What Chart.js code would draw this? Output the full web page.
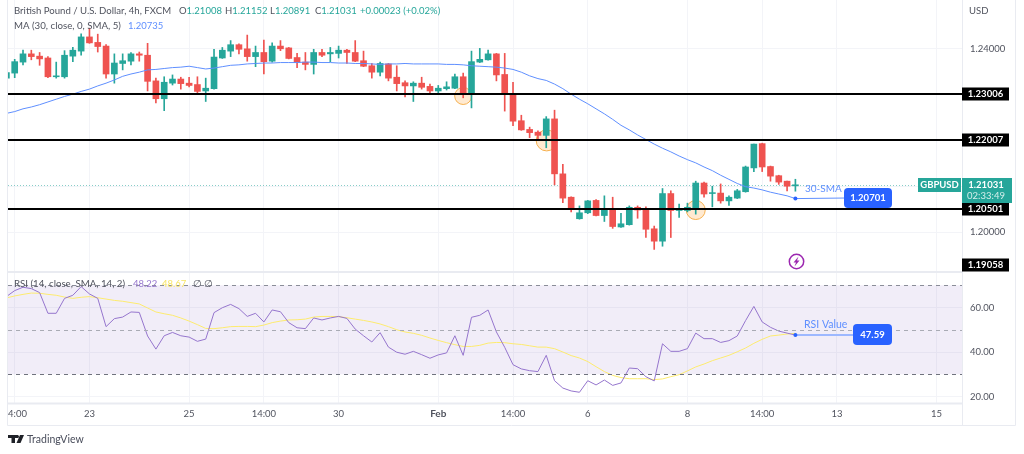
<!DOCTYPE html>
<html>
<head>
<meta charset="utf-8">
<title>GBPUSD</title>
<script src="https://cdn.jsdelivr.net/npm/chart.js@4"></script>
<style>
  html, body { margin: 0; padding: 0; background: #fff; }
  canvas { display: block; }
</style>
</head>
<body>
<canvas id="chart" width="1024" height="454"></canvas>
<script>
// ===== DATA =====
const opens = [1.2336,1.2347,1.2371,1.2389,1.2384,1.2380,1.2339,1.2339,1.2384,1.2395,1.2426,1.2414,1.2406,1.2345,1.2368,1.2373,1.2389,1.2386,1.2330,1.2291,1.2325,1.2334,1.2325,1.2322,1.2308,1.2313,1.2380,1.2395,1.2409,1.2400,1.2383,1.2392,1.2373,1.2406,1.2402,1.2381,1.2371,1.2366,1.2392,1.2389,1.2390,1.2397,1.2392,1.2374,1.2363,1.2349,1.2367,1.2338,1.2326,1.2319,1.2325,1.2318,1.2308,1.2313,1.2314,1.2339,1.2301,1.2371,1.2376,1.2389,1.2344,1.2301,1.2243,1.2224,1.2218,1.2211,1.2247,1.2127,1.2076,1.2029,1.2042,1.2069,1.2036,1.2050,1.2011,1.2016,1.2054,1.2050,1.2007,1.1980,1.2084,1.2047,1.2047,1.2050,1.2107,1.2084,1.2085,1.2068,1.2074,1.2088,1.2140,1.2193,1.2143,1.2123,1.2111,1.21008];
const highs = [1.2352,1.2377,1.2397,1.2397,1.2392,1.2383,1.2371,1.2396,1.2403,1.2433,1.2445,1.2432,1.2409,1.2389,1.2389,1.2392,1.2393,1.2412,1.2336,1.2339,1.2343,1.2338,1.2338,1.2339,1.2336,1.2399,1.2403,1.2418,1.2411,1.2430,1.2406,1.2419,1.2413,1.2418,1.2403,1.2390,1.2392,1.2399,1.2399,1.2403,1.2406,1.2399,1.2418,1.2395,1.2368,1.2371,1.2368,1.2363,1.2330,1.2328,1.2338,1.2323,1.2320,1.2328,1.2345,1.2347,1.2395,1.2401,1.2397,1.2390,1.2390,1.2327,1.2255,1.2229,1.2221,1.2252,1.2266,1.2148,1.2077,1.2057,1.2069,1.2071,1.2079,1.2076,1.2041,1.2057,1.2057,1.2055,1.2013,1.2095,1.2090,1.2061,1.2063,1.2111,1.2109,1.2100,1.2105,1.2079,1.2093,1.2144,1.2192,1.2194,1.2144,1.2124,1.2111,1.21152];
const lows = [1.2330,1.2337,1.2365,1.2376,1.2364,1.2337,1.2336,1.2336,1.2372,1.2386,1.2412,1.2393,1.2336,1.2325,1.2354,1.2365,1.2373,1.2308,1.2282,1.2265,1.2321,1.2312,1.2317,1.2303,1.2285,1.2312,1.2379,1.2383,1.2389,1.2373,1.2361,1.2345,1.2371,1.2396,1.2378,1.2359,1.2354,1.2345,1.2383,1.2372,1.2380,1.2368,1.2372,1.2361,1.2336,1.2341,1.2330,1.2308,1.2295,1.2285,1.2312,1.2303,1.2303,1.2310,1.2313,1.2293,1.2271,1.2370,1.2375,1.2330,1.2264,1.2232,1.2222,1.2206,1.2201,1.2184,1.2103,1.2064,1.2044,1.2028,1.2040,1.2035,1.2023,1.2008,1.2010,1.2015,1.2030,1.1988,1.1962,1.1969,1.1988,1.2032,1.2044,1.2039,1.2076,1.2055,1.2063,1.2058,1.2073,1.2087,1.2132,1.2132,1.2111,1.2104,1.2090,1.20891];
const closes = [1.2348,1.2372,1.2389,1.2383,1.2378,1.2339,1.2341,1.2386,1.2397,1.2426,1.2413,1.2405,1.2345,1.2369,1.2374,1.2389,1.2386,1.2329,1.2291,1.2327,1.2334,1.2324,1.2320,1.2307,1.2314,1.2382,1.2397,1.2409,1.2399,1.2383,1.2392,1.2372,1.2406,1.2400,1.2379,1.2370,1.2366,1.2392,1.2386,1.2392,1.2397,1.2392,1.2373,1.2362,1.2349,1.2368,1.2336,1.2324,1.2319,1.2325,1.2316,1.2308,1.2314,1.2317,1.2339,1.2301,1.2372,1.2377,1.2389,1.2343,1.2300,1.2242,1.2223,1.2217,1.2211,1.2247,1.2127,1.2074,1.2050,1.2042,1.2068,1.2036,1.2050,1.2012,1.2018,1.2054,1.2048,1.2006,1.1980,1.2084,1.2047,1.2051,1.2054,1.2107,1.2083,1.2086,1.2068,1.2076,1.2090,1.2142,1.2192,1.2142,1.2122,1.2109,1.2100,1.21031];
const smaValues = [1.2259,1.2263,1.2269,1.2273,1.2278,1.2284,1.2290,1.2296,1.2301,1.2307,1.2312,1.2319,1.2325,1.2332,1.2340,1.2345,1.2349,1.2354,1.2355,1.2357,1.2359,1.2360,1.2362,1.2359,1.2356,1.2358,1.2361,1.2364,1.2365,1.2367,1.2368,1.2369,1.2369,1.2370,1.2370,1.2370,1.2371,1.2371,1.2370,1.2370,1.2369,1.2369,1.2368,1.2368,1.2367,1.2366,1.2367,1.2367,1.2368,1.2367,1.2367,1.2367,1.2367,1.2366,1.2366,1.2365,1.2363,1.2362,1.2361,1.2360,1.2358,1.2355,1.2349,1.2341,1.2335,1.2331,1.2323,1.2313,1.2301,1.2290,1.2280,1.2269,1.2258,1.2246,1.2233,1.2223,1.2212,1.2202,1.2192,1.2183,1.2175,1.2166,1.2158,1.2151,1.2142,1.2134,1.2124,1.2115,1.2106,1.2099,1.2096,1.2092,1.2087,1.2083,1.2079,1.2073];
const rsiValues = [64.9,67.6,69.1,68.5,66.7,57.4,57.4,64.1,65.5,69.4,66.1,64.1,51.4,55,55.7,58,57.8,47.2,41.3,47.3,48.8,47.3,46.7,44.8,45.8,57.7,59.9,61.4,59.5,56,57.4,53.5,58.9,58.1,53.2,50.9,50.5,55.3,54.4,55.3,56,55.1,50.3,47.3,44.5,48.7,42.2,39.9,39,40.3,38.8,37.2,38.7,39.6,47.3,38.5,55.6,56.5,58.9,49,42.1,34.3,32.4,31.6,31.2,38.5,27.1,23.8,22.5,21.9,27.1,25.2,27.4,25,26.1,32.8,32.5,28.9,27,43.7,40.3,40.3,41.5,48.5,46,46,44.3,45.1,47.2,54.1,60.5,53.5,51.1,49.4,48.5,47.6];
const rsiSmaValues = [64.3,65.2,65.9,66.5,66.4,65.9,65.5,64.7,64.1,64.6,64.9,64.4,63.8,63.2,62.8,62.2,61.6,59.8,58,57.2,56.5,55.3,53.9,52.3,50.6,50.5,50.9,51.4,51.5,51.5,51.4,52.1,53.2,53.9,54.4,54.5,54.8,55.7,56,56,55.9,55.4,54.8,54.2,53.5,52.6,51.4,50,49,48.4,47.5,46.3,45.2,44.2,43.3,42.5,42.5,43,44,44.3,44.2,43.7,43.4,42.8,42.2,42.2,41.5,40,38.4,37.3,35.7,33.4,31.2,29.5,28.5,28,28,28,27.6,27.9,28.9,29.8,31.5,33.3,34.6,36.1,37.3,38.5,40.1,41.8,43.9,45.7,47.2,47.6,48.1,48.4];

const timeTickIndex = [1,10,22,31,40,52,61,70,82,91,100,112];
const timeTickLabels = ['14:00','23','25','14:00','30','Feb','14:00','6','8','14:00','13','15'];
const priceGridTicks = [1.20,1.21,1.22,1.23,1.24];
const priceLabelTicks = [1.20,1.24];
const rsiTicks = [20,40,60];
const supportLevels = [1.23006,1.22007,1.20501];
const lastPrice = 1.21031;
const smaCallout = 1.20701;
const rsiCallout = 47.59;
const rsiBands = [70,50,30];
const circleMarks = [[55,1.2297],[65.05,1.2200],[83,1.2048]];

const UP = '#26a69a', DOWN = '#ef5350', MA_BLUE = '#5f8fff', TEXT = '#50535e';
const FONT = 'Lato, "Noto Sans", sans-serif';

const candleColor = closes.map((c, i) => c >= opens[i] ? UP : DOWN);
const xy = vals => vals.map((v, i) => ({ x: i, y: v }));

// TV style frame, drawings and text on top of the panes
const overlay = {
  id: 'overlay',
  beforeDatasetsDraw(chart) {
    const { ctx, chartArea: a, scales } = chart;
    const r = scales.yRsi, p = scales.y, x = scales.x;
    ctx.save();
    // rsi band
    ctx.fillStyle = 'rgba(126,87,194,0.11)';
    ctx.fillRect(a.left, r.getPixelForValue(70), a.right - a.left, r.getPixelForValue(30) - r.getPixelForValue(70));
    // last price dotted
    const ly = Math.round(p.getPixelForValue(lastPrice)) + 0.5;
    ctx.strokeStyle = UP; ctx.globalAlpha = 0.55; ctx.lineWidth = 1; ctx.setLineDash([1, 2]);
    ctx.beginPath(); ctx.moveTo(a.left, ly); ctx.lineTo(917, ly); ctx.stroke();
    ctx.globalAlpha = 1; ctx.setLineDash([]);
    // touch circles
    circleMarks.forEach(([i, v], n) => {
      ctx.beginPath();
      ctx.arc(x.getPixelForValue(i), p.getPixelForValue(v), [8.5, 10.5, 9.5][n], 0, Math.PI * 2);
      ctx.fillStyle = 'rgba(255,180,90,0.28)'; ctx.fill();
      ctx.strokeStyle = '#f6b04e'; ctx.lineWidth = 1; ctx.stroke();
    });
    ctx.restore();
  },
  afterDatasetsDraw(chart) {
    const { ctx, chartArea: a, scales } = chart;
    const r = scales.yRsi, p = scales.y, x = scales.x;
    ctx.save();
    // horizontal S/R lines
    ctx.strokeStyle = '#000'; ctx.lineWidth = 2;
    supportLevels.forEach(v => {
      const y = Math.round(p.getPixelForValue(v));
      ctx.beginPath(); ctx.moveTo(a.left, y); ctx.lineTo(a.right, y); ctx.stroke();
    });
    // rsi dashed
    ctx.lineWidth = 1; ctx.setLineDash([4, 4]);
    rsiBands.forEach((v, n) => {
      const y = Math.round(r.getPixelForValue(v)) + 0.5;
      ctx.strokeStyle = ['#8a8d98', '#a9abb4', '#6f727d'][n];
      ctx.beginPath(); ctx.moveTo(a.left, y); ctx.lineTo(a.right, y); ctx.stroke();
    });
    ctx.setLineDash([]);

    // callout lines
    const cx = x.getPixelForValue(95);
    const sy = p.getPixelForValue(smaValues[95]), ry = r.getPixelForValue(rsiCallout);
    ctx.strokeStyle = MA_BLUE; ctx.lineWidth = 1;
    ctx.beginPath(); ctx.moveTo(cx, sy); ctx.lineTo(846, 198); ctx.stroke();
    ctx.strokeStyle = '#9db8ff'; ctx.lineWidth = 2;
    ctx.beginPath(); ctx.moveTo(cx, ry); ctx.lineTo(855, ry); ctx.stroke();
    ctx.fillStyle = '#2962ff';
    [sy, ry].forEach(y => { ctx.beginPath(); ctx.arc(cx, y, 2, 0, Math.PI * 2); ctx.fill(); });
    roundBox(ctx, 844, 188, 48, 20, 4, '#2962ff');
    roundBox(ctx, 853, 324, 39, 21, 4, '#2962ff');
    ctx.restore();
  },
  afterDraw(chart) {
    const { ctx, chartArea: a, scales } = chart;
    const p = scales.y;
    ctx.save();
    // mask left of the pane, clips the first time label
    ctx.fillStyle = '#fff'; ctx.fillRect(0, 0, 7.5, 454);
    // frame
    ctx.strokeStyle = '#e9ebf1'; ctx.lineWidth = 1;
    line(ctx, 7.5, 0, 7.5, 425.5);
    line(ctx, 1015.5, 0, 1015.5, 425.5);
    line(ctx, 7.5, 425.5, 1015.5, 425.5);
    line(ctx, a.right + 0.5, 0, a.right + 0.5, 425.5);
    ctx.lineWidth = 2;
    line(ctx, 8, 272, a.right, 272);
    line(ctx, 8, a.bottom + 0.5, a.right, a.bottom + 0.5);

    // price labels
    supportLevels.concat([1.19058]).forEach(v => {
      const y = v === 1.19058 ? 265 : Math.round(p.getPixelForValue(v));
      ctx.fillStyle = '#000'; ctx.fillRect(962, y - 6.5, 47, 13);
      label(ctx, v.toFixed(5), 985.5, y, '#fff', 'bold 9.5px ' + FONT, 'center');
    });
    ctx.fillStyle = UP; ctx.fillRect(918, 178, 43, 14);
    label(ctx, 'GBPUSD', 939.5, 185, '#fff', 'bold 9.5px ' + FONT, 'center');
    ctx.fillStyle = UP; ctx.fillRect(962, 178, 50, 25);
    label(ctx, lastPrice.toFixed(5), 986, 185, '#fff', 'bold 9.5px ' + FONT, 'center');
    label(ctx, '02:33:49', 986, 196, '#d4eeeb', '9.5px ' + FONT, 'center');

    // callouts
    label(ctx, smaCallout.toFixed(5), 868, 198, '#fff', 'bold 9.5px ' + FONT, 'center');
    label(ctx, rsiCallout.toFixed(2), 872.5, 334.5, '#fff', 'bold 9.5px ' + FONT, 'center');
    label(ctx, '30-SMA', 805, 189, MA_BLUE, '10px ' + FONT);
    label(ctx, 'RSI Value', 804, 325, MA_BLUE, '10.5px ' + FONT);

    // lightning mark
    ctx.strokeStyle = '#9c27b0'; ctx.lineWidth = 1.5;
    ctx.beginPath(); ctx.arc(796.5, 261.5, 7.2, 0, Math.PI * 2); ctx.stroke();
    ctx.fillStyle = '#9c27b0';
    ctx.beginPath();
    ctx.moveTo(798.5, 256.5); ctx.lineTo(793.5, 262.5); ctx.lineTo(796, 262.5);
    ctx.lineTo(794.5, 266.5); ctx.lineTo(799.5, 260.5); ctx.lineTo(797, 260.5);
    ctx.closePath(); ctx.fill();

    // header text
    label(ctx, 'USD', 969, 11, TEXT, '9.5px ' + FONT);
    label(ctx, 'British Pound / U.S. Dollar, 4h, FXCM', 14, 11, TEXT, '9.6px ' + FONT);
    [['O', '1.21008', 179], ['H', '1.21152', 225], ['L', '1.20891', 270], ['C', '1.21031', 315]].forEach(([k, v, lx]) => {
      label(ctx, k, lx, 11, TEXT, '9.5px ' + FONT);
      label(ctx, v, lx + ctx.measureText(k).width, 11, UP, '9.5px ' + FONT);
    });
    label(ctx, '+0.00023 (+0.02%)', 360, 11, UP, '9.5px ' + FONT);
    label(ctx, 'MA (30, close, 0, SMA, 5)', 14, 26, TEXT, '9.7px ' + FONT);
    label(ctx, '1.20735', 128, 26, MA_BLUE, '9.5px ' + FONT);

    // rsi legend
    label(ctx, 'RSI (14, close, SMA, 14, 2)', 14, 284, TEXT, '9.7px ' + FONT);
    label(ctx, '48.22', 133, 284, '#9575cd', '9.5px ' + FONT);
    label(ctx, '48.67', 162, 284, '#f7e463', '9.5px ' + FONT);
    label(ctx, '∅', 193, 284, TEXT, '9.5px ' + FONT);
    label(ctx, '∅', 204, 284, TEXT, '9.5px ' + FONT);

    // logo
    ctx.fillStyle = '#1f2128';
    ctx.fillRect(8, 435, 10, 3); ctx.fillRect(11.5, 435, 3.5, 8);
    ctx.beginPath(); ctx.arc(17.5, 436.5, 1.5, 0, Math.PI * 2); ctx.fill();
    ctx.beginPath(); ctx.moveTo(20, 435); ctx.lineTo(24, 435); ctx.lineTo(20.5, 443); ctx.lineTo(16.5, 443); ctx.closePath(); ctx.fill();
    label(ctx, 'TradingView', 27, 440, '#4a4e5c', '10.5px ' + FONT);
    ctx.restore();
  }
};

function line(ctx, x1, y1, x2, y2) {
  ctx.beginPath(); ctx.moveTo(x1, y1); ctx.lineTo(x2, y2); ctx.stroke();
}
function label(ctx, text, x, y, color, font, align) {
  ctx.fillStyle = color; ctx.font = font; ctx.textAlign = align || 'left'; ctx.textBaseline = 'middle';
  ctx.fillText(text, x, y);
}
function roundBox(ctx, x, y, w, h, rad, color) {
  ctx.fillStyle = color;
  ctx.beginPath(); ctx.roundRect(x, y, w, h, rad); ctx.fill();
}
// the scale asks for room for its outer tick labels; the panes must fill the frame
function dropScalePadding(s) {
  s.paddingTop = s.paddingBottom = s.paddingLeft = s.paddingRight = 0;
}

const tickFont = { family: FONT, size: 9.5 };
const yAxisBase = {
  position: 'right',
  stack: 'panes',
  border: { display: false },
  grid: { color: '#f3f4f8', drawTicks: false },
  afterFit: s => { s.width = 53; dropScalePadding(s); }
};

new Chart(document.getElementById('chart'), {
  type: 'bar',
  data: {
    datasets: [
      { type: 'line', label: 'MA', data: xy(smaValues), yAxisID: 'y', borderColor: MA_BLUE, borderWidth: 1, pointRadius: 0, tension: 0 },
      { type: 'line', label: 'RSI', data: xy(rsiValues), yAxisID: 'yRsi', borderColor: '#9575cd', borderWidth: 1, pointRadius: 0, tension: 0 },
      { type: 'line', label: 'RSI SMA', data: xy(rsiSmaValues), yAxisID: 'yRsi', borderColor: '#fdeb6e', borderWidth: 1, pointRadius: 0, tension: 0 },
      { label: 'Body', data: opens.map((o, i) => ({ x: i, y: [o, closes[i]] })), yAxisID: 'y', grouped: false, barThickness: 6, backgroundColor: candleColor, borderSkipped: false },
      { label: 'Wick', data: lows.map((l, i) => ({ x: i, y: [l, highs[i]] })), yAxisID: 'y', grouped: false, barThickness: 1, backgroundColor: candleColor, borderSkipped: false }
    ]
  },
  options: {
    responsive: false,
    animation: false,
    devicePixelRatio: 1,
    layout: { autoPadding: false, padding: { left: 8, right: 9, top: 0, bottom: 29 } },
    plugins: { legend: { display: false }, tooltip: { enabled: false } },
    scales: {
      x: {
        type: 'linear',
        offset: false,
        min: 0.193,
        max: 115.06,
        border: { display: false },
        grid: { color: '#f3f4f8', drawTicks: false, offset: false },
        afterBuildTicks: s => { s.ticks = timeTickIndex.map(v => ({ value: v })); },
        afterFit: s => { s.height = 22; dropScalePadding(s); },
        ticks: {
          autoSkip: false,
          maxRotation: 0,
          padding: 5,
          color: TEXT,
          font: c => c.tick && c.tick.value === 52 ? { family: FONT, size: 10, weight: 'bold' } : tickFont,
          callback: v => timeTickLabels[timeTickIndex.indexOf(v)]
        }
      },
      y: {
        ...yAxisBase,
        stackWeight: 272,
        min: 1.19127,
        max: 1.25066,
        afterBuildTicks: s => { s.ticks = priceGridTicks.map(v => ({ value: v })); },
        ticks: {
          autoSkip: false, padding: 8, color: TEXT, font: tickFont,
          callback: v => priceLabelTicks.includes(v) ? v.toFixed(5) : ''
        }
      },
      yRsi: {
        ...yAxisBase,
        stackWeight: 131,
        min: 17.08,
        max: 75.96,
        afterBuildTicks: s => { s.ticks = rsiTicks.map(v => ({ value: v })); },
        ticks: {
          autoSkip: false, padding: 8, color: TEXT, font: tickFont,
          callback: v => v.toFixed(2)
        }
      }
    }
  },
  plugins: [overlay]
});
</script>
</body>
</html>
